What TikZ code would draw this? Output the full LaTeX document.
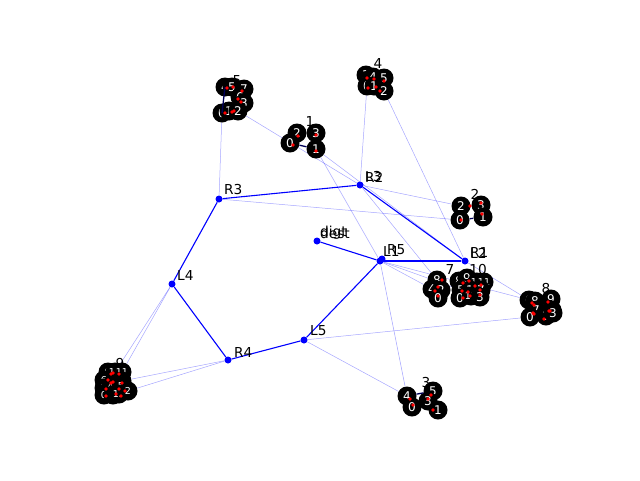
\documentclass[tikz,border=0pt]{standalone}
\usepackage{fontspec}
\setmainfont{DejaVu Sans}
\usetikzlibrary{backgrounds}
\begin{document}
\begin{tikzpicture}[x=1pt,y=-1pt,
  thin/.style={blue, opacity=0.35, line width=0.5},
  mainedge/.style={blue, line width=1.1},
  mnode/.style={circle, fill=blue, inner sep=0, minimum size=7},
  cnode/.style={circle, fill=black, inner sep=0, minimum size=19, text=white, font=\fontsize{12}{12}\selectfont},
  snode/.style={cnode, font=\fontsize{9.5}{9.5}\selectfont},
  cedge/.style={draw=blue!35!black, line width=1.3},
  lab/.style={anchor=west, font=\fontsize{13.7}{13.7}\selectfont, inner sep=0},
  clab/.style={font=\fontsize{13.7}{13.7}\selectfont, inner sep=0}]
\useasboundingbox (0,0) rectangle (640,480);

% main nodes
\node[mnode] (R3) at (219,199) {};
\node[mnode] (R2) at (360,185) {};
\node[mnode] (R1) at (465,261) {};
\node[mnode] (L1) at (380,261) {};
\node[mnode] (R5) at (382,259) {};
\node[mnode] (dest) at (317,241) {};
\node[mnode] (L5) at (304,340) {};
\node[mnode] (R4) at (228,360) {};
\node[mnode] (L4) at (172,284) {};

% cluster labels (under circles)
\node[clab] (tF) at (237,81) {5};
\node[clab] (tA) at (310,122) {1};
\node[clab] (tD) at (378,64) {4};
\node[clab] (tB) at (475,194) {2};
\node[clab] (tG) at (450,269) {7};
\node[clab] (tJ) at (478,270) {10};
\node[clab] (tH) at (546,289) {8};
\node[clab] (tI) at (120,364) {9};
\node[clab] (tC) at (426,383) {3};

% cluster F
\node[cnode] (F4) at (225,87) {4};
\node[cnode] (F5) at (232,87) {5};
\node[cnode] (F7) at (244,89) {7};
\node[cnode] (F6) at (240,97) {6};
\node[cnode] (F3) at (244,103) {3};
\node[cnode] (F0) at (222,113) {0};
\node[cnode] (F1) at (229,111) {1};
\node[cnode] (F2) at (238,111) {2};
% cluster A
\node[cnode] (A2) at (297,133) {2};
\node[cnode] (A3) at (316,133) {3};
\node[cnode] (A0) at (290,143) {0};
\node[cnode] (A1) at (316,149) {1};
% cluster D
\node[cnode] (D3) at (366,75) {3};
\node[cnode] (D4) at (373,77) {4};
\node[cnode] (D5) at (384,78) {5};
\node[cnode] (D0) at (367,86) {0};
\node[cnode] (D1) at (374,86) {1};
\node[cnode] (D2) at (384,91) {2};
% cluster B
\node[cnode] (B2) at (461,206) {2};
\node[cnode] (B3) at (481,205) {3};
\node[cnode] (B0) at (460,220) {0};
\node[cnode] (B1) at (483,217) {1};
% cluster G
\node[cnode] (G8) at (437,280) {8};
\node[cnode] (G4) at (432,289) {4};
\node[cnode] (G2) at (441,290) {2};
\node[cnode] (G0) at (438,298) {0};
% cluster J
\node[cnode] (J8) at (459,281) {8};
\node[cnode] (J9) at (467,278) {9};
\node[snode] (J10) at (477,282) {10};
\node[snode] (J11) at (484,282) {11};
\node[cnode] (J5) at (461,290) {5};
\node[cnode] (J1) at (470,290) {1};
\node[cnode] (J7) at (481,290) {7};
\node[cnode] (J0) at (460,298) {0};
\node[snode] (J12) at (471,296) {12};
\node[cnode] (J3) at (480,297) {3};
% cluster H
\node[cnode] (H6) at (529,300) {6};
\node[cnode] (H8) at (535,301) {8};
\node[cnode] (H9) at (551,299) {9};
\node[cnode] (H7) at (536,310) {7};
\node[cnode] (H5) at (552,310) {5};
\node[cnode] (H0) at (530,317) {0};
\node[cnode] (H1) at (546,316) {1};
\node[cnode] (H3) at (553,313) {3};
% cluster I
\node[snode] (I9) at (108,372) {9};
\node[snode] (I10) at (115,372) {10};
\node[snode] (I11) at (122,372) {11};
\node[snode] (I6) at (104,380) {6};
\node[snode] (I7) at (115,381) {7};
\node[snode] (I8) at (122,381) {8};
\node[snode] (I3) at (104,388) {3};
\node[snode] (I4) at (111,386) {4};
\node[snode] (I5) at (121,386) {5};
\node[snode] (I0) at (104,395) {0};
\node[snode] (I1) at (113,395) {1};
\node[snode] (I12) at (119,394) {12};
\node[snode] (I2) at (128,391) {2};
% cluster C
\node[cnode] (C4) at (407,396) {4};
\node[cnode] (C5) at (433,391) {5};
\node[cnode] (C0) at (412,407) {0};
\node[cnode] (C3) at (428,401) {3};
\node[cnode] (C1) at (438,410) {1};

% edges inside clusters
\draw[cedge] (F4.center) -- (F0.center);
\draw[cedge] (A0) -- (A1);
\draw[cedge] (B0) -- (B1);
\draw[cedge] (C4) -- (C5);

% red dots
\foreach \n/\dx/\dy in {F4/2/1,F5/1/0,F7/-2/2,F6/-2/2,F3/-3/-1,F0/3/0,F1/3/1,F2/-4/0,
  A2/1/3,A3/0/2,A0/3/2,A1/0/2,D3/1/3,D4/1/2,D5/0/3,D0/1/2,D1/2/1,D2/-4/0,
  B2/9/0,B3/0/-2,B0/1/0,B1/-1/-3,G8/5/0,G4/3/2,G2/-3/-3,G0/0/-2,
  J8/4/2,J9/2/3,J10/-2/4,J11/-3/3,J5/1/1,J1/-2/2,J7/-1/0,J0/3/0,J12/-1/0,J3/0/-2,
  H6/3/3,H8/-1/4,H9/-3/3,H7/-3/3,H5/-2/1,H0/4/-3,H1/-2/3,H3/-4/-2,
  I9/3/2,I10/-2/1,I11/-3/2,I6/4/0,I7/-2/1,I8/0/2,I3/2/1,I4/0/-3,I5/-2/3,I0/2/1,I1/3/-1,I12/2/2,I2/-3/0,
  C4/3/3,C5/-2/4,C0/1/-2,C3/0/-2,C1/-5/0}
  \fill[red] (\n.center) ++(\dx,\dy) circle (1.8);

% main labels
\node[lab] (lR3) at (224,190) {R3};
\node[lab] (lR2) at (365,177) {R2};
\node[lab] (lL3) at (365,177) {L3};
\node[lab] (lL1) at (383,252) {L1};
\node[lab] (lR5) at (387,250) {R5};
\node[lab] (lR1) at (470,253) {R1};
\node[lab] (lL2) at (470,253) {L2};
\node[lab] (lL4) at (177,276) {L4};
\node[lab] (lR4) at (234,352) {R4};
\node[lab] (lL5) at (310,331) {L5};
\node[lab] (ld1) at (320,233) {dest};
\node[lab] (ld2) at (320,233) {digt};

\begin{scope}[on background layer]
% thin edges
\draw[thin] (F0) -- (R3);
\draw[thin] (F2) -- (R2);
\draw[thin] (D0) -- (R2);
\draw[thin] (D2) -- (R1);
\draw[thin] (A1) -- (L1);
\draw[thin] (A1) -- (R1);
\draw[thin] (R3) -- (B0);
\draw[thin] (R2) -- (B2);
\draw[thin] (R2) -- (G8);
\draw[thin] (L1) -- (G4);
\draw[thin] (L1) -- (J5);
\draw[thin] (R1) -- (H6);
\draw[thin] (L1) -- (H6);
\draw[thin] (L5) -- (H0);
\draw[thin] (L5) -- (C4);
\draw[thin] (L1) -- (C4);
\draw[thin] (L4) -- (I11);
\draw[thin] (L4) -- (I10);
\draw[thin] (R4) -- (I2);
\draw[thin] (R4) -- (I8);
% main edges
\draw[mainedge] (R3) -- (R2);
\draw[mainedge] (R2) -- (R1);
\draw[mainedge] (L1) -- (R1);
\draw[mainedge] (dest) -- (L1);
\draw[mainedge] (L1) -- (L5);
\draw[mainedge] (L5) -- (R4);
\draw[mainedge] (R4) -- (L4);
\draw[mainedge] (L4) -- (R3);
\end{scope}
\end{tikzpicture}
\end{document}
